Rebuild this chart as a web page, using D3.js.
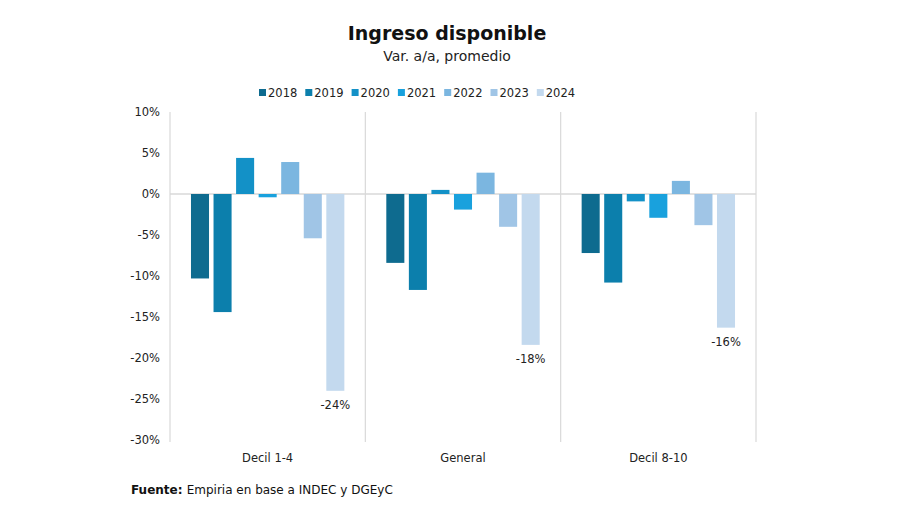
<!DOCTYPE html>
<html><head><meta charset="utf-8">
<script src="https://cdn.jsdelivr.net/npm/d3@7"></script>
<style>body{margin:0;background:#fff}</style>
</head><body><svg id="c" width="900" height="506"></svg>
<script>
const categories = ["Decil 1-4", "General", "Decil 8-10"];
const years = ["2018","2019","2020","2021","2022","2023","2024"];
const v2018 = [-10.3, -8.4, -7.2];
const v2019 = [-14.4, -11.7, -10.8];
const v2020 = [4.4, 0.5, -0.9];
const v2021 = [-0.4, -1.9, -2.9];
const v2022 = [3.9, 2.6, 1.6];
const v2023 = [-5.4, -4.0, -3.8];
const v2024 = [-24.0, -18.4, -16.3];
const labels2024 = ["-24%", "-18%", "-16%"];
const yTicks = [10,5,0,-5,-10,-15,-20,-25,-30];
const colors = ["#0e6b8f","#0c7fac","#1391c7","#19a1dd","#7bb6e0","#a0c5e6","#c3d9ee"];
const series = [v2018,v2019,v2020,v2021,v2022,v2023,v2024];

const svg = d3.select("#c");
const font = "Tahoma, 'DejaVu Sans', sans-serif";
const L = 170, R = 756, T = 112, B = 440;
const x0 = d3.scaleBand().domain(categories).range([L, R]).paddingInner(0).paddingOuter(0);
const x1 = d3.scaleBand().domain(years).range([0, x0.bandwidth()]).paddingOuter(0.93).paddingInner(0.2);
const y = d3.scaleLinear().domain([-30, 10]).range([B, T]);

// title
svg.append("text").attr("x",447).attr("y",40).attr("text-anchor","middle")
  .attr("font-family",font).attr("font-weight","bold").attr("font-size",19).attr("fill","#111").text("Ingreso disponible");
svg.append("text").attr("x",447).attr("y",61).attr("text-anchor","middle")
  .attr("font-family",font).attr("font-size",14).attr("fill","#222").text("Var. a/a, promedio");

// legend
const lg = svg.append("g");
years.forEach((yr,i)=>{
  const gx = 259 + i*46.3;
  lg.append("rect").attr("x",gx).attr("y",89).attr("width",7).attr("height",7).attr("fill",colors[i]);
  lg.append("text").attr("x",gx+9).attr("y",97).attr("font-family",font).attr("font-size",11.5).attr("fill","#222").text(yr);
});

// separators
const seps = categories.map(c=>x0(c)).concat([R]);
svg.selectAll("line.sep").data(seps).enter().append("line")
  .attr("x1",d=>d).attr("x2",d=>d).attr("y1",T).attr("y2",B+2)
  .attr("stroke","#d9d9d9").attr("stroke-width",1.2);

// zero line
svg.append("line").attr("x1",L).attr("x2",R).attr("y1",y(0)).attr("y2",y(0)).attr("stroke","#d9d9d9").attr("stroke-width",1.5);

// y axis
const ya = d3.axisLeft(y).tickValues(yTicks).tickSize(0).tickPadding(0).tickFormat(d=>d+"%");
const yg = svg.append("g").attr("transform",`translate(${L-10},0)`).call(ya);
yg.select(".domain").remove();
yg.selectAll("text").attr("font-family",font).attr("font-size",11.5).attr("fill","#222");

// bars
categories.forEach((c,ci)=>{
  years.forEach((yr,si)=>{
    const v = series[si][ci];
    svg.append("rect").attr("x",x0(c)+x1(yr)).attr("width",x1.bandwidth())
      .attr("y",y(Math.max(0,v))).attr("height",Math.abs(y(v)-y(0)))
      .attr("fill",colors[si]);
  });
  svg.append("text").attr("x",x0(c)+x1("2024")+x1.bandwidth()/2).attr("y",y(v2024[ci])+18)
    .attr("text-anchor","middle").attr("font-family",font).attr("font-size",11.5).attr("fill","#222").text(labels2024[ci]);
  svg.append("text").attr("x",x0(c)+x0.bandwidth()/2).attr("y",462)
    .attr("text-anchor","middle").attr("font-family",font).attr("font-size",11.5).attr("fill","#222").text(c);
});

// footer
const ft = svg.append("text").attr("x",131).attr("y",494).attr("font-family",font).attr("font-size",12).attr("fill","#111");
ft.append("tspan").attr("font-weight","bold").text("Fuente: ");
ft.append("tspan").text("Empiria en base a INDEC y DGEyC");
</script></body></html>
